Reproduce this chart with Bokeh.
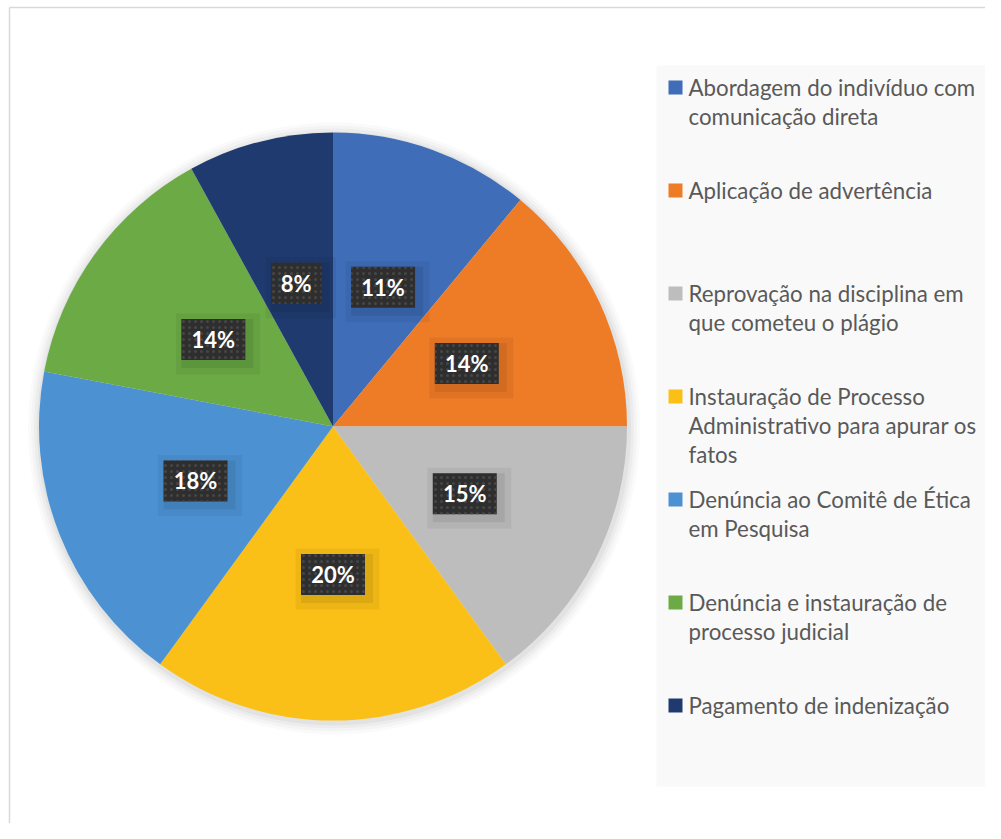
import math
from bokeh.plotting import figure
from bokeh.models import Range1d
from bokeh.embed import file_html
from bokeh.resources import INLINE
from bokeh.core.properties import value

# ---- data ----
categories = [
    "Abordagem do indivíduo com\ncomunicação direta",
    "Aplicação de advertência",
    "Reprovação na disciplina em\nque cometeu o plágio",
    "Instauração de Processo\nAdministrativo para apurar os\nfatos",
    "Denúncia ao Comitê de Ética\nem Pesquisa",
    "Denúncia e instauração de\nprocesso judicial",
    "Pagamento de indenização",
]
percent = [11, 14, 15, 20, 18, 14, 8]
colors = ["#3F6DB8", "#EE7B26", "#BDBDBD", "#FBC017", "#4C92D2", "#6BAA45", "#1E3A6E"]

# ---- layout ----
W, H = 985, 823
p = figure(width=W, height=H, x_range=Range1d(0, W), y_range=Range1d(0, H),
           output_backend="svg", toolbar_location=None, min_border=0,
           x_axis_location=None, y_axis_location=None)
p.grid.visible = False
p.outline_line_color = None
p.background_fill_color = "white"
p.border_fill_color = "white"

def px(x):
    return x

def py(y):
    return H - y

# chart border (top and left only)
p.segment(x0=[px(9), px(9)], y0=[py(7), py(7)], x1=[W, px(9)], y1=[py(7), 0],
          line_color="#d9d9d9", line_width=1.5)

# legend background
p.quad(left=px(656), right=px(990), bottom=py(786), top=py(65), fill_color="#f9f9f9", line_color=None)

# pie
cx, cy, R = px(332.5), py(426), 294
for k, a in [(12, 0.02), (9, 0.025), (6, 0.03), (3, 0.04)]:
    p.circle(x=[cx + 1], y=[cy - 2], radius=R + k, fill_color="black", fill_alpha=a, line_color=None)

total = sum(percent)
cum = [0]
for v in percent:
    cum.append(cum[-1] + v)
start = [math.pi / 2 - 2 * math.pi * cum[i] / total for i in range(len(percent))]
end = [math.pi / 2 - 2 * math.pi * cum[i + 1] / total for i in range(len(percent))]
p.wedge(x=cx, y=cy, radius=R, start_angle=start, end_angle=end, direction="clock",
        fill_color=colors, line_color=None)

# data labels
mid = [(s + e) / 2 for s, e in zip(start, end)]
rl = 0.503 * R
lx = [cx + rl * math.cos(m) for m in mid]
ly = [cy + rl * math.sin(m) for m in mid]
labels = [f"{v}%" for v in percent]
bw = [37 + 13.5 * len(str(v)) for v in percent]
bh = [41] * len(percent)
p.rect(x=[x + 4.5 for x in lx], y=[y - 4.5 for y in ly], width=[w + 20 for w in bw],
       height=[h + 20 for h in bh], fill_color="black", fill_alpha=0.05, line_color=None)
p.rect(x=[x + 4 for x in lx], y=[y - 4 for y in ly], width=[w + 8 for w in bw],
       height=[h + 8 for h in bh], fill_color="black", fill_alpha=0.07, line_color=None)
p.rect(x=lx, y=ly, width=bw, height=bh, fill_color="#2e2e2e", line_color=None,
       hatch_pattern="dot", hatch_color="#464646", hatch_scale=6, hatch_weight=1.5)
p.text(x=lx, y=ly, text=labels, text_align="center", text_baseline="middle",
       text_color="white", text_font=value("Lato"), text_font_style="bold", text_font_size="22px")

# legend
leg_x0 = px(675)
leg_tx = px(688)
first_y = 87
step = 103
line_h = 29
sq_y = [py(first_y + step * i) for i in range(len(categories))]
p.rect(x=[leg_x0] * len(categories), y=sq_y, width=14, height=14, fill_color=colors, line_color=None)
tx, ty, tt = [], [], []
for i, lab in enumerate(categories):
    for j, line in enumerate(lab.split("\n")):
        tx.append(leg_tx)
        ty.append(py(first_y + step * i + line_h * j))
        tt.append(line)
p.text(x=tx, y=ty, text=tt, text_align="left", text_baseline="middle",
       text_color="#595959", text_font=value("Lato"), text_font_size="22.3px")

open("out.html", "w").write(file_html(p, INLINE))
